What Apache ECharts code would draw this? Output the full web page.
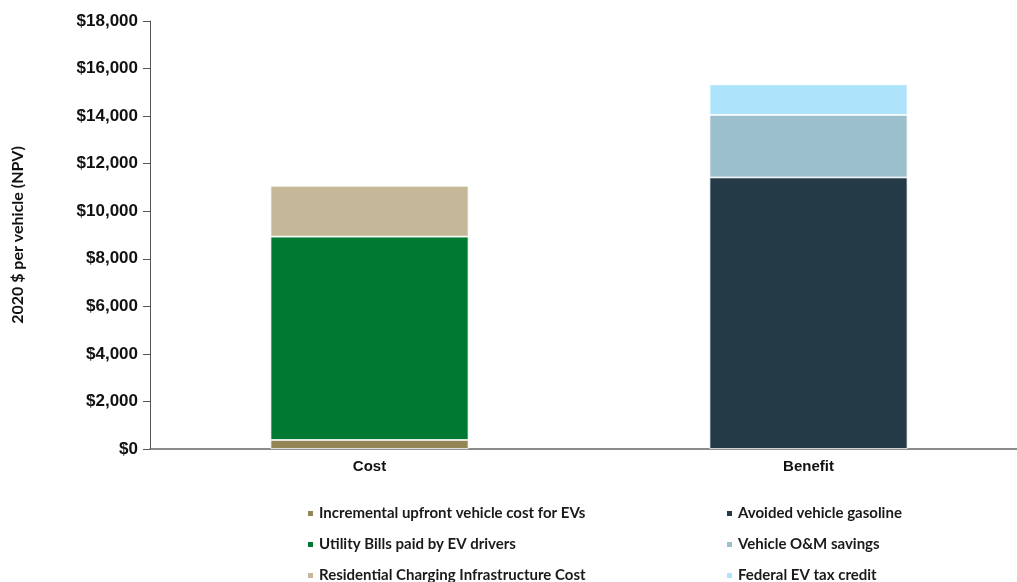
<!DOCTYPE html>
<html><head><meta charset="utf-8">
<script src="https://cdn.jsdelivr.net/npm/echarts@6/dist/echarts.min.js"></script>
<style>html,body{margin:0;padding:0;background:#fff}#c{width:1017px;height:582px}</style>
</head><body><div id="c"></div>
<script>
const categories = ['Cost', 'Benefit'];
const seriesNames = [
  'Incremental upfront vehicle cost for EVs',
  'Utility Bills paid by EV drivers',
  'Residential Charging Infrastructure Cost',
  'Avoided vehicle gasoline',
  'Vehicle O&M savings',
  'Federal EV tax credit'
];
const incrementalCost = [380, null];
const utilityBills = [8550, null];
const chargingInfra = [2140, null];
const avoidedGasoline = [null, 11420];
const omSavings = [null, 2630];
const taxCredit = [null, 1290];
const yTicks = { min: 0, max: 18000, interval: 2000 };

const colors = ['#938556', '#007a33', '#c4b898', '#243a47', '#9bbfcb', '#aee4fb'];
const values = [incrementalCost, utilityBills, chargingInfra, avoidedGasoline, omSavings, taxCredit];

const chart = echarts.init(document.getElementById('c'));
const legendText = { fontFamily: 'Lato', fontWeight: 'bold', fontSize: 15, color: '#1a1a1a' };
chart.setOption({
  animation: false,
  grid: { left: 150, top: 21, width: 878, height: 428, containLabel: false, outerBoundsMode: 'none' },
  legend: [
    { data: seriesNames.slice(0, 3), orient: 'vertical', left: 301, top: 501, height: 90, itemWidth: 7, itemHeight: 7, itemGap: 16, icon: 'rect', textStyle: legendText },
    { data: seriesNames.slice(3), orient: 'vertical', left: 720, top: 501, height: 90, itemWidth: 7, itemHeight: 7, itemGap: 16, icon: 'rect', textStyle: legendText }
  ],
  xAxis: {
    type: 'category', data: categories,
    axisLine: { lineStyle: { color: '#666', width: 1.5 } },
    axisTick: { show: false },
    axisLabel: { fontFamily: 'Liberation Sans', fontWeight: 'bold', fontSize: 15, color: '#111', margin: 10 }
  },
  yAxis: {
    type: 'value', min: yTicks.min, max: yTicks.max, interval: yTicks.interval,
    name: '2020 $ per vehicle (NPV)', nameLocation: 'middle', nameGap: 124,
    nameTextStyle: { fontFamily: 'Lato', fontWeight: 'bold', fontSize: 16, color: '#111' },
    axisLine: { show: true, lineStyle: { color: '#555', width: 1 } },
    axisTick: { show: true, inside: false, length: 7, lineStyle: { color: '#555' } },
    splitLine: { show: false },
    axisLabel: {
      fontFamily: 'Liberation Sans', fontWeight: 'bold', fontSize: 17, color: '#111', margin: 12,
      formatter: v => '$' + v.toLocaleString('en-US')
    }
  },
  series: seriesNames.map((n, i) => ({
    name: n, type: 'bar', stack: 'total', data: values[i], barWidth: 198,
    itemStyle: { color: colors[i], borderColor: '#fff', borderWidth: 0.8 }
  }))
});
</script></body></html>
